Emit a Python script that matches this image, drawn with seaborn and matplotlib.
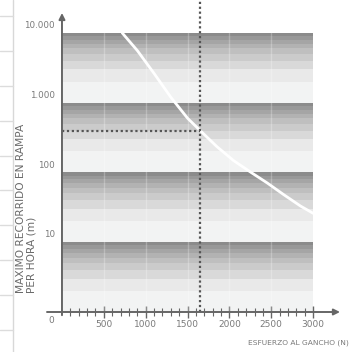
import numpy as np
import pandas as pd
import matplotlib.pyplot as plt
import seaborn as sns
from matplotlib.lines import Line2D


# curve: force on the hook (N) vs max ramp travel per hour (m)
force = [720, 900, 1100, 1300, 1500, 1650, 1850, 2050, 2260, 2450, 2650, 2850, 3000]
travel = [10000, 5600, 2630, 1200, 600, 400, 235, 148, 100, 71, 48, 33, 26]

# operating point shown by the dotted guides
op_force = 1650
op_travel = 400

decades = [1, 10, 100, 1000]
# grey for each step k..k+1 inside a decade (bottom light, top dark)
band_greys = ['#f2f3f3', '#e9e9e9', '#d9d9d9', '#cbcbcb', '#bfbfbf',
              '#b2b2b2', '#a5a5a5', '#989898', '#8b8b8b']

y_ticks = [10000, 1000, 100, 10, 1]
y_labels = ['10.000', '1.000', '100', '10', '0']
x_ticks = [500, 1000, 1500, 2000, 2500, 3000]
x_labels = ['500', '1000', '1500', '2000', '2500', '3000']
x_max = 3000

sns.set_theme(style='white')
plt.rcParams['font.family'] = ['DejaVu Sans']
text_grey = '#7a7a7a'

W, H = 362, 352
fig = plt.figure(figsize=(W / 100, H / 100), dpi=100)
ax = fig.add_axes([47 / W, 40 / H, 293 / W, 312 / H])
ax.set_yscale('log')
ax.set_xlim(-179, 3321)
ax.set_ylim(1, 10 ** 4.473)
for s in ax.spines.values():
    s.set_visible(False)

# shaded decade bands
for d in decades:
    for k, c in enumerate(band_greys, start=1):
        ax.fill_between([0, x_max], d * k, d * (k + 1), color=c, lw=0, zorder=0)

# faint vertical grid
for xv in x_ticks[:-1]:
    ax.plot([xv, xv], [1, decades[-1] * 10], color='white', alpha=0.25, lw=1, zorder=1)

# curve
df = pd.DataFrame({'force': force, 'travel': travel})
sns.lineplot(data=df, x='force', y='travel', color='white', lw=2, ax=ax, zorder=3)
ax.set_xlabel('')
ax.set_ylabel('')

# dotted guides
dot = dict(color='#555555', lw=1.6, ls=(0, (1, 1.2)), zorder=4, clip_on=False)
ax.plot([op_force, op_force], [1, 10 ** 4.473], **dot)
ax.plot([0, op_force], [op_travel, op_travel], **dot)

# axes with arrow heads
arr = dict(arrowstyle='-|>', color='#666666', lw=1.4, mutation_scale=9,
           shrinkA=0, shrinkB=0)
ax.annotate('', xy=(0, 10 ** 4.287), xytext=(0, 0.9), arrowprops=arr,
            annotation_clip=False, zorder=5)
ax.annotate('', xy=(3321, 1), xytext=(-179, 1), arrowprops=arr,
            annotation_clip=False, zorder=5)

# x ticks
ax.set_xticks(x_ticks)
ax.set_xticklabels(x_labels, color=text_grey, fontsize=6.5)
ax.set_yticks([])
ax.yaxis.set_minor_locator(plt.NullLocator())
ax.set_xticks([v for v in range(100, x_max + 1, 100) if v % 500], minor=True)
ax.tick_params(axis='x', which='major', direction='inout', length=8.5, width=1,
               color='#666666', pad=1.5, bottom=True)
ax.tick_params(axis='x', which='minor', direction='inout', length=5.5, width=0.8,
               color='#666666', bottom=True)

# y labels
for v, lab in zip(y_ticks, y_labels):
    if v == 1:
        ax.annotate(lab, xy=(0, v), xytext=(-6, -3), textcoords='offset points',
                    ha='right', va='top', color=text_grey, fontsize=6.5)
    else:
        ax.annotate(lab, xy=(0, v), xytext=(-5, 2), textcoords='offset points',
                    ha='right', va='bottom', color=text_grey, fontsize=6.3)

# axis titles
fig.text(21.5 / W, 1 - 293 / H, 'MAXIMO RECORRIDO EN RAMPA', rotation=90,
         ha='center', va='bottom', fontsize=7.7, color='#6a6a6a')
fig.text(32 / W, 1 - 293 / H, 'PER HORA (m)', rotation=90,
         ha='center', va='bottom', fontsize=7.7, color='#6a6a6a')
fig.text(349 / W, 1 - 343 / H, 'ESFUERZO AL GANCHO (N)', ha='right', va='center',
         fontsize=5.4, color=text_grey)

# page border lines at the left edge
fig.add_artist(Line2D([13 / W, 13 / W], [0, 1], color='#d8d8d8', lw=1))
for i in range(10):
    yy = 1 - (16 + 34.9 * i) / H
    fig.add_artist(Line2D([0, 13 / W], [yy, yy], color='#dcdcdc', lw=1))

fig.savefig('out.png', dpi=100)
